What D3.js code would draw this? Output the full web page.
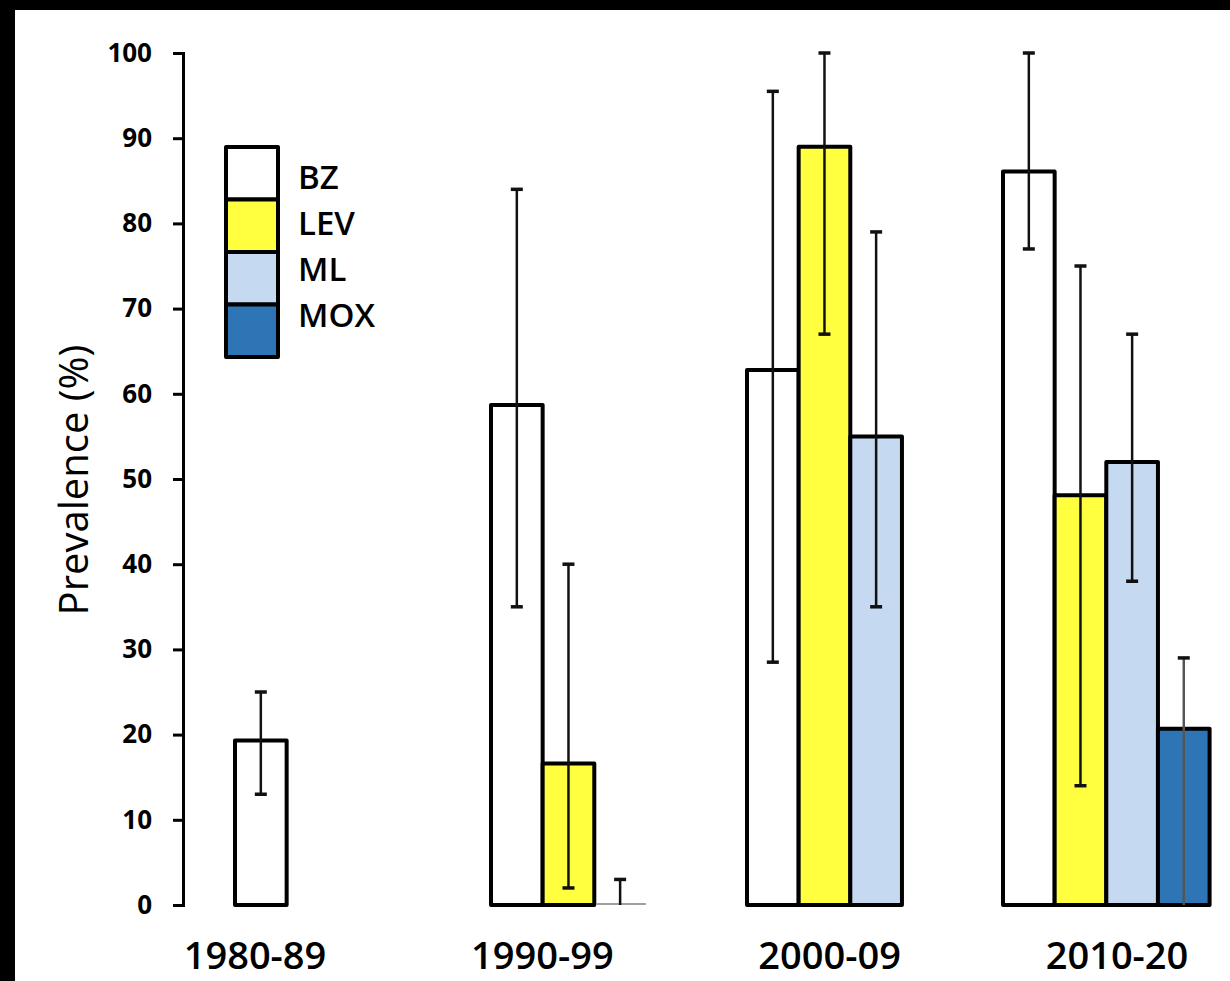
<!DOCTYPE html>
<head>
    <meta charset="utf-8" />
    <script src="https://d3js.org/d3.v7.min.js"></script>
</head>
<style>
    body { margin: 0; background: #000; }
    text { font-family: "Open Sans", sans-serif; fill: #000; }
</style>
<body>
</body>
<script>
// data
var periods = ["1980-89", "1990-99", "2000-09", "2010-20"];
var series = ["BZ", "LEV", "ML", "MOX"];
var colors = ["#ffffff", "#ffff40", "#c5d9f1", "#2e75b6"];
var yTicks = [0, 10, 20, 30, 40, 50, 60, 70, 80, 90, 100];

var valBZ  = [19.3, 58.7, 62.8, 86.1];
var valLEV = [null, 16.6, 89.0, 48.1];
var valML  = [null, 0,    55.0, 52.0];
var valMOX = [null, null, null, 20.7];

var lowBZ  = [13, 35, 28.5, 77];
var lowLEV = [null, 2, 67, 14];
var lowML  = [null, 0, 35, 38];
var lowMOX = [null, null, null, 0];

var highBZ  = [25, 84, 95.5, 100];
var highLEV = [null, 40, 100, 75];
var highML  = [null, 3, 79, 67];
var highMOX = [null, null, null, 29];

var vals = [valBZ, valLEV, valML, valMOX];
var lows = [lowBZ, lowLEV, lowML, lowMOX];
var highs = [highBZ, highLEV, highML, highMOX];

// build flat list of bars
var bars = [];
series.forEach(function (s, si) {
    periods.forEach(function (p, pi) {
        if (vals[si][pi] !== null) {
            bars.push({period: p, serie: s, color: colors[si],
                value: vals[si][pi], low: lows[si][pi], high: highs[si][pi]});
        }
    });
});

var W = 1230, H = 981;

var svg = d3.select("body").append("svg")
    .attr("width", W)
    .attr("height", H);

svg.append("rect").attr("width", W).attr("height", H).attr("fill", "#000");
svg.append("rect").attr("x", 15).attr("y", 10)
    .attr("width", W - 15).attr("height", H - 10).attr("fill", "#fff");

var y = d3.scaleLinear().domain([0, 100]).range([905, 53]);

var x = d3.scaleBand()
    .domain(periods)
    .range([235, 1209.6])
    .paddingInner(0.193)
    .paddingOuter(0);

var xs = d3.scaleBand()
    .domain(series)
    .range([0, x.bandwidth()]);

// period labels are spread more evenly than the bar groups
var xl = d3.scalePoint().domain(periods).range([255, 1117]);

// y axis
var yAxis = svg.append("g")
    .attr("transform", "translate(183,0)")
    .call(d3.axisLeft(y).tickValues(yTicks).tickSize(10).tickPadding(21));
yAxis.selectAll("path, line").attr("stroke", "#000").attr("stroke-width", 3);
yAxis.selectAll("text")
    .style("font-family", "'Open Sans', sans-serif")
    .style("font-size", "26px")
    .style("font-weight", "700")
    .attr("fill", "#000");

svg.append("text")
    .attr("transform", "translate(88,480) rotate(-90)")
    .attr("text-anchor", "middle")
    .style("font-size", "40px")
    .text("Prevalence (%)");

function bx(d) { return x(d.period) + xs(d.serie); }
function cx(d) { return bx(d) + xs.bandwidth() / 2; }

// bars
var g = svg.append("g");
g.selectAll("rect.bar")
    .data(bars.filter(function (d) { return d.value > 0; }))
    .enter()
    .append("rect")
    .attr("class", "bar")
    .attr("x", bx)
    .attr("y", function (d) { return y(d.value); })
    .attr("width", xs.bandwidth())
    .attr("height", function (d) { return y(0) - y(d.value); })
    .attr("fill", function (d) { return d.color; })
    .attr("stroke", "#000")
    .attr("stroke-width", 4)
    .attr("stroke-linejoin", "round");

// zero-height bars show only as a thin grey line
g.selectAll("line.zero")
    .data(bars.filter(function (d) { return d.value === 0; }))
    .enter()
    .append("line")
    .attr("class", "zero")
    .attr("x1", function (d) { return bx(d) + 2; })
    .attr("x2", function (d) { return bx(d) + xs.bandwidth(); })
    .attr("y1", function (d) { return y(d.value) - 1; })
    .attr("y2", function (d) { return y(d.value) - 1; })
    .attr("stroke", "#a0a0a0")
    .attr("stroke-width", 2);

// error bars
var eb = g.selectAll("g.err")
    .data(bars)
    .enter()
    .append("g")
    .attr("class", "err")
    .attr("stroke", function (d) { return d.serie === "MOX" ? "#555" : "#111"; })
    .attr("stroke-width", 2.5);

eb.append("line")
    .attr("x1", cx).attr("x2", cx)
    .attr("y1", function (d) { return y(d.low); })
    .attr("y2", function (d) { return y(d.high); });
eb.append("line")
    .attr("x1", function (d) { return cx(d) - 6; })
    .attr("x2", function (d) { return cx(d) + 6; })
    .attr("y1", function (d) { return y(d.high); })
    .attr("y2", function (d) { return y(d.high); })
    .attr("stroke", "#111")
    .attr("stroke-width", 3.5);
eb.filter(function (d) { return d.low > 0; })
    .append("line")
    .attr("x1", function (d) { return cx(d) - 6; })
    .attr("x2", function (d) { return cx(d) + 6; })
    .attr("y1", function (d) { return y(d.low); })
    .attr("y2", function (d) { return y(d.low); })
    .attr("stroke-width", 3.5);

// period labels
svg.append("g").selectAll("text")
    .data(periods)
    .enter()
    .append("text")
    .attr("x", function (d) { return xl(d); })
    .attr("y", 969)
    .attr("text-anchor", "middle")
    .style("font-size", "38px")
    .style("font-weight", "600")
    .text(function (d) { return d; });

// legend
var leg = svg.append("g");
leg.selectAll("rect")
    .data(series)
    .enter()
    .append("rect")
    .attr("x", 226)
    .attr("y", function (d, i) { return 147 + i * 52.5; })
    .attr("width", 52)
    .attr("height", 52.5)
    .attr("fill", function (d, i) { return colors[i]; })
    .attr("stroke", "#000")
    .attr("stroke-width", 4)
    .attr("stroke-linejoin", "round");
leg.selectAll("text")
    .data(series)
    .enter()
    .append("text")
    .attr("x", 298)
    .attr("y", function (d, i) { return 189 + i * 46; })
    .style("font-size", "33px")
    .style("font-weight", "600")
    .text(function (d) { return d; });
</script>
